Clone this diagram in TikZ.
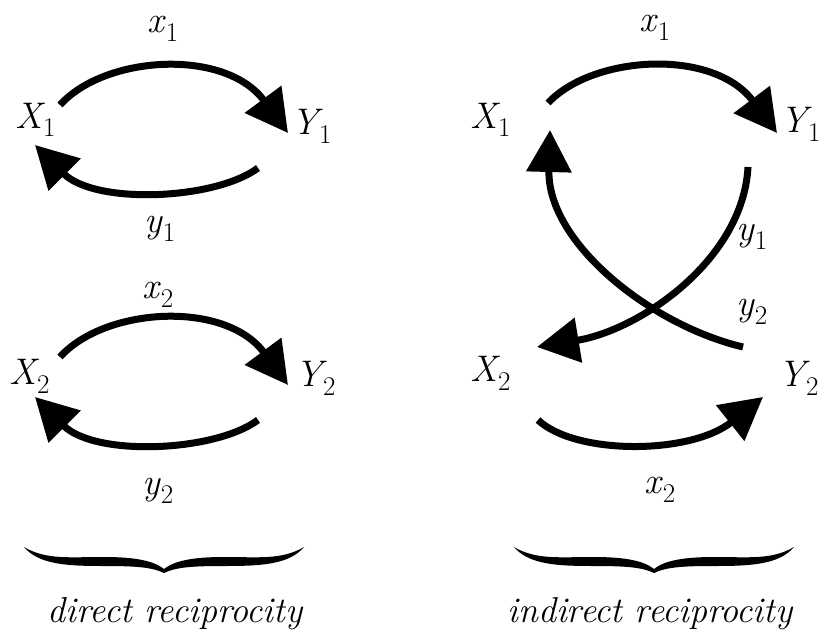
\documentclass[tikz,border=0pt]{standalone}
\usetikzlibrary{arrows.meta}
\newcommand{\agent}[3][0pt]{\textit{#2}\kern#1\raisebox{-9pt}{\fontsize{27}{30}\selectfont #3}}
\tikzset{
  lab/.style={anchor=base west, inner sep=0pt, font=\fontsize{37}{44}\selectfont},
  flow/.style={line width=7pt, -{Triangle[length=42pt,width=44pt]}},
  capt/.style={anchor=base, inner sep=0pt, font=\fontsize{36}{42}\selectfont\itshape},
  curlybrace/.pic={
    \fill (-140,-26) .. controls (-118,-13) and (-95,-16) .. (-60,-16)
      .. controls (-28,-16) and (-10,-12) .. (0,-4)
      .. controls (10,-12) and (28,-16) .. (60,-16)
      .. controls (95,-16) and (118,-13) .. (140,-26)
      .. controls (125,-8) and (95,-7) .. (60,-7)
      .. controls (30,-7) and (12,-6) .. (0,0)
      .. controls (-12,-6) and (-30,-7) .. (-60,-7)
      .. controls (-95,-7) and (-125,-8) .. (-140,-26) -- cycle;
  }
}
\begin{document}
\begin{tikzpicture}[x=1pt,y=-1pt]
    \useasboundingbox (0,0) rectangle (819,642);
    \node[lab] (X1d) at (15,128) {\agent[-2pt]{X}{1}};
    \node[lab] (Y1d) at (291,134) {\agent[-4pt]{Y}{1}};
    \node[lab] (x1d) at (147,33) {\agent{x}{1}};
    \node[lab] (y1d) at (144,232) {\agent{y}{1}};
    \node[lab] (X2d) at (9,384) {\agent[-2pt]{X}{2}};
    \node[lab] (Y2d) at (295,386) {\agent[-4pt]{Y}{2}};
    \node[lab] (x2d) at (142,298) {\agent{x}{2}};
    \node[lab] (y2d) at (142,494) {\agent{y}{2}};
    \coordinate (d1a) at (60,105);
    \coordinate (d1b) at (288,133);
    \coordinate (d1c) at (258,168);
    \coordinate (d1d) at (35,145);
    \coordinate (d2a) at (60,357);
    \coordinate (d2b) at (288,385);
    \coordinate (d2c) at (258,420);
    \coordinate (d2d) at (35,397);
    \draw[flow] (d1a) .. controls (105,55) and (225,48) .. (d1b);
    \draw[flow] (d1c) .. controls (215,200) and (95,205) .. (d1d);
    \draw[flow] (d2a) .. controls (105,307) and (225,300) .. (d2b);
    \draw[flow] (d2c) .. controls (215,452) and (95,457) .. (d2d);
    \node[lab] (X1i) at (470,128) {\agent[-2pt]{X}{1}};
    \node[lab] (Y1i) at (780,132) {\agent[-4pt]{Y}{1}};
    \node[lab] (x1i) at (639,32) {\agent{x}{1}};
    \node[lab] (y1i) at (736,240) {\agent{y}{1}};
    \node[lab] (y2i) at (736,315) {\agent{y}{2}};
    \node[lab] (X2i) at (470,381) {\agent[-2pt]{X}{2}};
    \node[lab] (Y2i) at (778,386) {\agent[-4pt]{Y}{2}};
    \node[lab] (x2i) at (644,493) {\agent{x}{2}};
    \coordinate (i1a) at (548,103);
    \coordinate (i1b) at (777,133);
    \coordinate (i2a) at (748,167);
    \coordinate (i2b) at (537,347);
    \coordinate (i3a) at (743,347);
    \coordinate (i3b) at (550,130);
    \coordinate (i4a) at (538,420);
    \coordinate (i4b) at (763,397);
    \draw[flow] (i1a) .. controls (593,55) and (713,48) .. (i1b);
    \draw[flow] (i2a) .. controls (743,260) and (640,330) .. (i2b);
    \draw[flow] (i3a) .. controls (650,325) and (547,242) .. (i3b);
    \draw[flow] (i4a) .. controls (575,455) and (690,455) .. (i4b);
    \pic (bd) at (164,573) {curlybrace};
    \pic (bi) at (654,573) {curlybrace};
    \node[capt] (cd) at (175,622) {direct reciprocity};
    \node[capt] (ci) at (650,622) {indirect reciprocity};
\end{tikzpicture}
\end{document}
